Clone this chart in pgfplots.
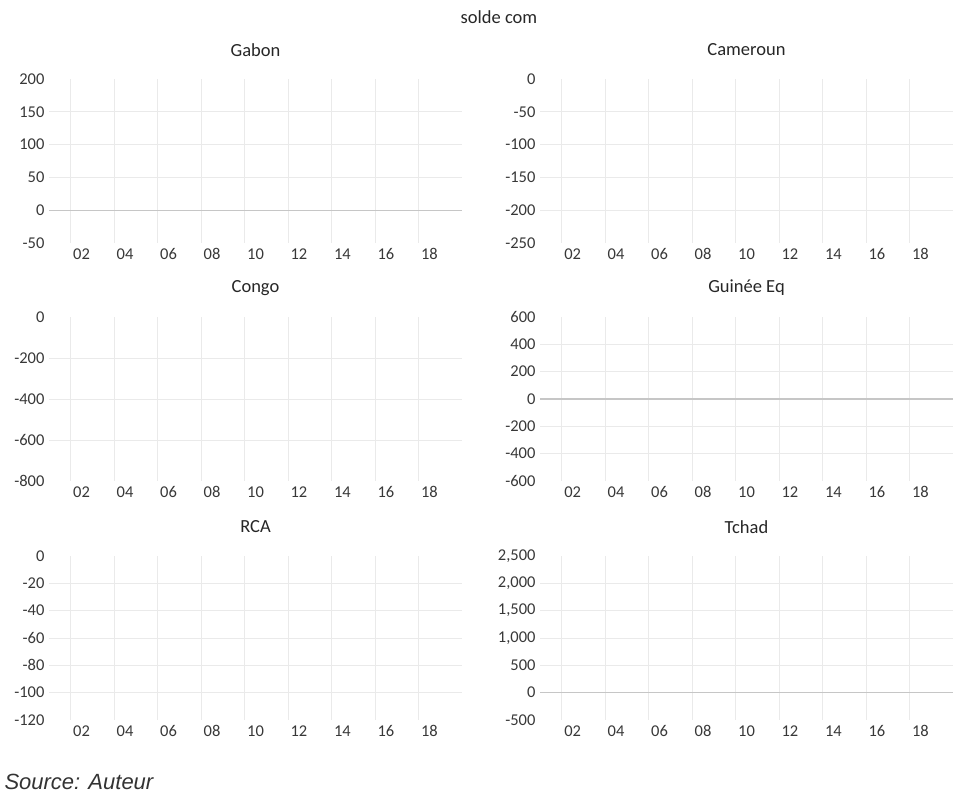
\documentclass[border=0pt]{standalone}
\usepackage{pgfplots}
\pgfplotsset{compat=1.18}
\usepackage{fontspec}
\setmainfont{Carlito}
\newfontfamily\srcfont{Liberation Sans}

\definecolor{gridgray}{HTML}{EAEAEA}
\definecolor{zerogray}{HTML}{C6C6C6}
\definecolor{labgray}{HTML}{383838}

\pgfplotsset{
  panel/.style={
    scale only axis,
    width=413pt, height=164pt,
    xmin=2001, xmax=2020,
    xtick={2002.5,2004.5,...,2018.5},
    xticklabels={02,04,06,08,10,12,14,16,18},
    minor xtick={2002,2004,...,2018},
    xminorgrids=true, yminorgrids=true,
    xmajorgrids=false, ymajorgrids=false,
    axis line style={draw=none},
    major tick length=0pt, minor tick length=0pt,
    minor grid style={color=gridgray, line width=0.9pt},
    ticklabel style={font=\fontsize{16.5}{18}\selectfont, text=labgray},
    xticklabel style={text height=10pt, text depth=0pt, yshift=-3pt},
    yticklabel style={xshift=-1pt},
    /pgf/number format/assume math mode=true,
    /pgf/number format/1000 sep={,},
    title style={font=\fontsize{18.5}{20}\selectfont, text=black!85,
      at={(0.5,1)}, anchor=center, yshift=23pt},
    clip=false,
  },
  zeroline/.style={
    extra y ticks={0}, extra y tick labels={},
    extra y tick style={grid=major,
      major grid style={color=zerogray, line width=1.1pt}},
  },
}

\begin{document}
\begin{tikzpicture}
\useasboundingbox (0pt,0pt) rectangle (960pt,797pt);

\node[font=\fontsize{18.5}{20}\selectfont, text=black!85] at (499pt,780pt) {solde com};

% Gabon
\begin{axis}[panel, zeroline, at={(49pt,554pt)}, title={Gabon},
    ymin=-50, ymax=200, ytick={-50,0,...,200},
    minor ytick={50,100,150}]
\end{axis}

% Cameroun
\begin{axis}[panel, at={(540pt,554pt)}, title={Cameroun},
    ymin=-250, ymax=0, ytick={-250,-200,...,0},
    minor ytick={-200,-150,-100,-50}]
\end{axis}

% Congo
\begin{axis}[panel, at={(49pt,316pt)}, title={Congo},
    ymin=-800, ymax=0, ytick={-800,-600,...,0},
    minor ytick={-600,-400,-200}]
\end{axis}

% Guinee Eq
\begin{axis}[panel, zeroline, at={(540pt,316pt)}, title={Guinée Eq},
    ymin=-600, ymax=600, ytick={-600,-400,...,600},
    minor ytick={-400,-200,200,400}]
\end{axis}

% RCA
\begin{axis}[panel, at={(49pt,77pt)}, title={RCA},
    ymin=-120, ymax=0, ytick={-120,-100,...,0},
    minor ytick={-100,-80,-60,-40,-20}]
\end{axis}

% Tchad
\begin{axis}[panel, zeroline, at={(540pt,77pt)}, title={Tchad},
    ymin=-500, ymax=2500, ytick={-500,0,...,2500},
    minor ytick={500,1000,1500,2000}]
\end{axis}

\node[anchor=west, font=\srcfont\itshape\fontsize{22}{24}\selectfont, text=black!80]
  at (1pt,15pt) {Source: Auteur};
\end{tikzpicture}
\end{document}
